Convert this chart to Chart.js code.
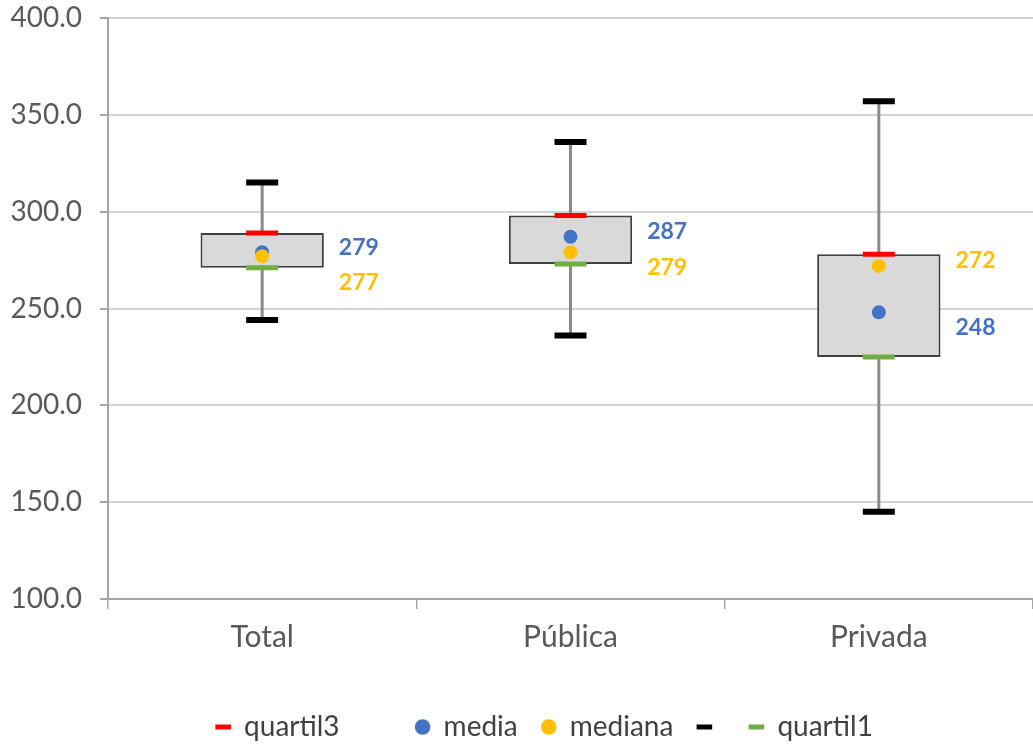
<!DOCTYPE html>
<html><head><meta charset="utf-8">
<script src="https://cdn.jsdelivr.net/npm/chart.js@4.4.1/dist/chart.umd.min.js"></script>
<style>html,body{margin:0;padding:0;background:#fff}#wrap{width:1033px;height:746px}</style>
</head><body><div id="wrap"><canvas id="c" width="1033" height="746"></canvas></div>
<script>
// ---- data ----
const categories = ['Total', 'Pública', 'Privada'];
const maximo   = [315, 336, 357];
const quartil3 = [289, 298, 278];
const media    = [279, 287, 248];
const mediana  = [277, 279, 272];
const quartil1 = [271, 273, 225];
const minimo   = [244, 236, 145];
const yMin = 100, yMax = 400, yStep = 50;

// ---- colours / styles ----
const RED = '#FF0000', GREEN = '#70AD47', BLUE = '#4472C4', YELLOW = '#FFC000', BLACK = '#000000';
const FONT = 'Lato';

const boxData = categories.map((c, i) => [quartil1[i], quartil3[i]]);
const whiskerData = categories.map((c, i) => [minimo[i], maximo[i]]);

const labelPlugin = {
  id: 'valueLabels',
  afterDatasetsDraw(chart) {
    const ctx = chart.ctx, ys = chart.scales.y;
    const boxMeta = chart.getDatasetMeta(1);
    ctx.save();
    ctx.font = 'bold 23px ' + FONT;
    ctx.textAlign = 'left';
    ctx.textBaseline = 'middle';
    categories.forEach((c, i) => {
      const bar = boxMeta.data[i];
      const x = bar.x + bar.width / 2 + 15;
      const items = [{ v: media[i], color: BLUE }, { v: mediana[i], color: YELLOW }].sort((a, b) => b.v - a.v);
      const yUp = ys.getPixelForValue(items[0].v) - 5;
      const yLow = Math.max(ys.getPixelForValue(items[1].v) + 15, yUp + 35);
      ctx.fillStyle = items[0].color;
      ctx.fillText(String(Math.round(items[0].v)), x, yUp);
      ctx.fillStyle = items[1].color;
      ctx.fillText(String(Math.round(items[1].v)), x, yLow);
    });
    ctx.restore();
  }
};

const pointDs = (label, data, color, style, radius, bw, order) => ({
  type: 'line', label, data, showLine: false,
  pointStyle: style, pointRadius: radius, pointHoverRadius: radius,
  pointBackgroundColor: color, pointBorderColor: color, pointBorderWidth: bw,
  order
});

new Chart(document.getElementById('c'), {
  type: 'bar',
  data: {
    labels: categories,
    datasets: [
      { label: 'whisker', data: whiskerData, backgroundColor: '#8a8a8a', maxBarThickness: 3,
        grouped: false, categoryPercentage: 1, barPercentage: 0.4, order: 10 },
      { label: 'caja', data: boxData, backgroundColor: '#d9d9d9', borderColor: '#404040', borderWidth: 2,
        borderSkipped: false, grouped: false, categoryPercentage: 1, barPercentage: 0.4, order: 9 },
      pointDs('max', maximo, BLACK, 'line', 16, 6, 5),
      pointDs('min', minimo, BLACK, 'line', 16, 6, 5),
      pointDs('quartil3', quartil3, RED, 'line', 16, 5, 4),
      pointDs('quartil1', quartil1, GREEN, 'line', 16, 5, 4),
      pointDs('media', media, BLUE, 'circle', 7, 0, 2),
      pointDs('mediana', mediana, YELLOW, 'circle', 7, 0, 1)
    ]
  },
  options: {
    responsive: false,
    animation: false,
    devicePixelRatio: 1,
    layout: { autoPadding: false, padding: { left: 10, right: 0, top: 18, bottom: -5 } },
    scales: {
      x: {
        offset: true,
        grid: { drawOnChartArea: false, drawTicks: true, tickLength: 10, color: '#a6a6a6', lineWidth: 1.5 },
        border: { display: true, color: '#a6a6a6', width: 2 },
        ticks: { color: '#595959', font: { family: FONT, size: 30 }, padding: 10 },
        afterFit(s) { s.height = 90; s.paddingLeft = 0; s.paddingRight = 0; }
      },
      y: {
        min: yMin, max: yMax,
        grid: { color: '#d4d4d4', lineWidth: 2, tickLength: 8, tickColor: '#a6a6a6' },
        border: { display: true, color: '#a6a6a6', width: 2 },
        ticks: { stepSize: yStep, color: '#595959', font: { family: FONT, size: 28 }, padding: 18,
                 callback: v => Number(v).toFixed(1) },
        afterFit(s) { s.width = 98; s.paddingTop = 0; s.paddingBottom = 0; }
      }
    },
    plugins: {
      tooltip: { enabled: false },
      legend: {
        position: 'bottom',
        fullSize: false,
        onClick: null,
        labels: {
          usePointStyle: true,
          boxWidth: 14, boxHeight: 11,
          padding: 24,
          color: '#404040',
          font: { family: FONT, size: 28 },
          generateLabels() {
            const mk = (text, style, color, lw) => ({ text, pointStyle: style, fillStyle: color, strokeStyle: color, lineWidth: lw, fontColor: '#404040', hidden: false });
            const blank = 'rgba(0,0,0,0)';
            return [
              mk('quartil3', 'line', RED, 5),
              mk('', 'line', blank, 0),
              mk('media', 'circle', BLUE, 0),
              mk('mediana', 'circle', YELLOW, 0),
              mk('', 'line', BLACK, 5),
              mk('quartil1', 'line', GREEN, 5),
              mk('', 'line', blank, 0)
            ];
          }
        }
      }
    }
  },
  plugins: [labelPlugin]
});
</script>
</body></html>
